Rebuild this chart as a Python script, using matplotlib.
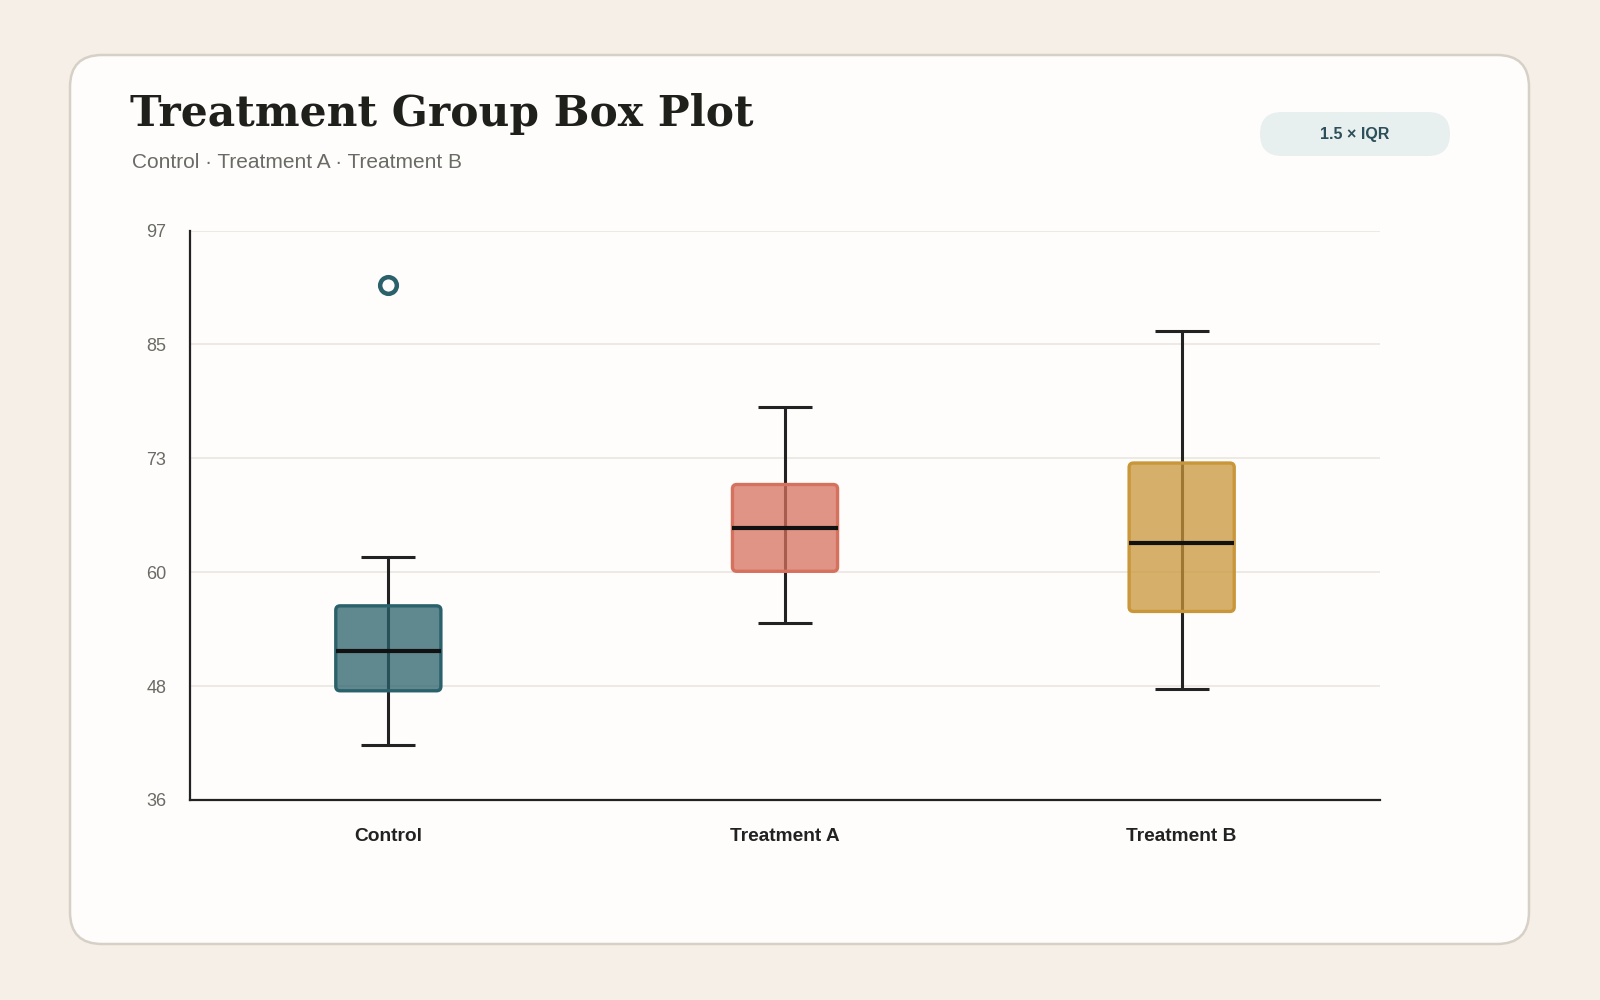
import numpy as np
import matplotlib.pyplot as plt
from matplotlib.patches import FancyBboxPatch

# values
groups = ['Control', 'Treatment A', 'Treatment B']
whisker_low = [41.9, 55.0, 47.9]
q1 = [47.7, 60.5, 56.2]
medians = [52.0, 65.1, 63.5]
q3 = [56.8, 69.8, 72.1]
whisker_high = [62.0, 78.1, 86.2]
outliers = [[91.2], [], []]
colors = ['#2A616B', '#D6715E', '#C99639']

y_min, y_max = 36, 97
y_ticks = np.linspace(y_min, y_max, 6)

sans = ['Liberation Sans', 'DejaVu Sans']
fig = plt.figure(figsize=(16, 10), dpi=100)
fig.patch.set_facecolor('#F5EFE7')

# background card in pixel coordinates
bg = fig.add_axes([0, 0, 1, 1], zorder=0)
bg.set_xlim(0, 1600)
bg.set_ylim(1000, 0)
bg.axis('off')
card = FancyBboxPatch((70, 55), 1459, 889, boxstyle='round,pad=0,rounding_size=32',
                      facecolor='#FEFDFB', edgecolor='#D6D0C7', linewidth=1.8)
bg.add_patch(card)
badge = FancyBboxPatch((1260, 112), 190, 44, boxstyle='round,pad=0,rounding_size=22',
                       facecolor='#E7F0EF', edgecolor='none')
bg.add_patch(badge)
bg.text(1355, 135, '1.5 × IQR', ha='center', va='center', fontsize=11.5,
        fontweight='bold', color='#2C4F5A', family=sans)
bg.text(130, 126, 'Treatment Group Box Plot', ha='left', va='baseline',
        fontsize=30.5, fontweight='bold', color='#1F1F1C', family='DejaVu Serif')
bg.text(132, 168, 'Control · Treatment A · Treatment B', ha='left', va='baseline',
        fontsize=15, color='#6A6A66', family=sans)

ax = fig.add_axes([190 / 1600, 0.2, 1190 / 1600, 0.5694], zorder=1)
ax.set_facecolor('none')

positions = np.arange(len(groups))
box_w = 0.265
cap_w = 0.136
for i, pos in enumerate(positions):
    # whisker line runs behind the translucent box
    ax.vlines(pos, whisker_low[i], whisker_high[i], color='#222222', linewidth=2.2, zorder=2)
    ax.hlines([whisker_low[i], whisker_high[i]], pos - cap_w / 2, pos + cap_w / 2,
              color='#222222', linewidth=2.2, zorder=2)
    box = FancyBboxPatch((pos - box_w / 2, q1[i]), box_w, q3[i] - q1[i],
                         boxstyle='round,pad=0,rounding_size=0.011',
                         mutation_aspect=42.5,
                         facecolor=colors[i], alpha=0.75, edgecolor='none', zorder=3)
    ax.add_patch(box)
    edge = FancyBboxPatch((pos - box_w / 2, q1[i]), box_w, q3[i] - q1[i],
                          boxstyle='round,pad=0,rounding_size=0.011',
                          mutation_aspect=42.5,
                          facecolor='none', edgecolor=colors[i], linewidth=2.4, zorder=4)
    ax.add_patch(edge)
    ax.hlines(medians[i], pos - box_w / 2, pos + box_w / 2, color='#111111',
              linewidth=3, zorder=5)
    if outliers[i]:
        ax.plot([pos] * len(outliers[i]), outliers[i], 'o', markersize=12,
                markerfacecolor='#FEFDFB', markeredgecolor=colors[i],
                markeredgewidth=3.2, zorder=5)

ax.set_xlim(-0.5, 2.5)
ax.set_ylim(y_min, y_max)
ax.set_yticks(y_ticks)
ax.set_yticklabels([f'{v:.0f}' for v in y_ticks], fontsize=13, color='#6A6A66', family=sans)
ax.set_xticks(positions)
ax.set_xticklabels(groups, fontsize=13.8, fontweight='bold', color='#222222', family=sans)
ax.tick_params(axis='y', length=0, pad=17)
ax.tick_params(axis='x', length=0, pad=20)
ax.grid(axis='y', color='#E8E5DF', linewidth=1.1, zorder=0)
ax.set_axisbelow(True)
for side in ['top', 'right']:
    ax.spines[side].set_visible(False)
for side in ['left', 'bottom']:
    ax.spines[side].set_color('#222222')
    ax.spines[side].set_linewidth(1.6)

fig.savefig('out.png', dpi=100, facecolor=fig.get_facecolor())
